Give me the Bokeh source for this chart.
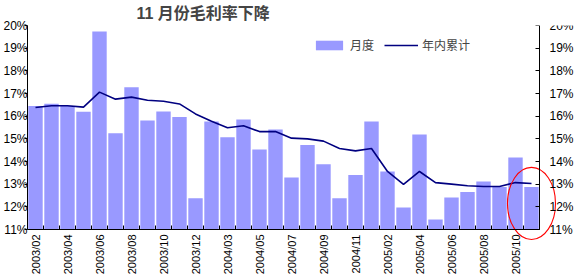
import numpy as np
from bokeh.plotting import figure
from bokeh.models import (Range1d, LinearAxis, FixedTicker, Legend, LegendItem,
                          PrintfTickFormatter, CustomJSTickFormatter, ColumnDataSource)
from bokeh.embed import file_html
from bokeh.resources import INLINE

months = ["2003/02", "2003/03", "2003/04", "2003/05", "2003/06", "2003/07", "2003/08",
          "2003/09", "2003/10", "2003/11", "2003/12",
          "2004/02", "2004/03", "2004/04", "2004/05", "2004/06", "2004/07", "2004/08",
          "2004/09", "2004/10", "2004/11", "2004/12",
          "2005/02", "2005/03", "2005/04", "2005/05", "2005/06", "2005/07", "2005/08",
          "2005/09", "2005/10", "2005/11"]

monthly = [16.45, 16.55, 16.45, 16.2, 19.74, 15.25, 17.28, 15.81, 16.21, 15.96, 12.38,
           15.76, 15.07, 15.85, 14.53, 15.41, 13.29, 14.73, 13.88, 12.38, 13.4, 15.76,
           13.56, 11.97, 15.19, 11.44, 12.41, 12.65, 13.12, 12.88, 14.18, 12.87]

cumulative = [16.38, 16.46, 16.46, 16.4, 17.06, 16.75, 16.84, 16.7, 16.66, 16.54, 16.1,
              15.78, 15.49, 15.58, 15.32, 15.32, 15.03, 15.0, 14.9, 14.57, 14.47, 14.57,
              13.56, 12.99, 13.56, 13.07, 13.0, 12.93, 12.9, 12.9, 13.07, 13.03]

y_ticks = [11, 12, 13, 14, 15, 16, 17, 18, 19, 20]

title_text = "11 月份毛利率下降"
legend_labels = ["月度", "年内累计"]

n = len(months)
xs = [i + 0.5 for i in range(n)]
src = ColumnDataSource(dict(x=xs, m=monthly, c=cumulative, label=months))

# The plotting frame is extended past the right and bottom axes (which are drawn at
# fixed data locations) so that the highlight ellipse is not clipped.
W, H = 574, 278
LEFT, TOP = 27, 25
PX_PER_CAT = 16.0
PX_PER_PCT = 204.0 / (y_ticks[-1] - y_ticks[0])
x_end = (W - LEFT) / PX_PER_CAT
y_start = y_ticks[0] - 49.0 / PX_PER_PCT

p = figure(width=W, height=H, output_backend="svg", toolbar_location=None,
           x_range=Range1d(0, x_end), y_range=Range1d(y_start, y_ticks[-1]),
           min_border_left=LEFT, min_border_right=0, min_border_top=TOP, min_border_bottom=0)
p.outline_line_color = None
p.background_fill_color = "white"
p.border_fill_color = "white"
p.xgrid.visible = False
p.ygrid.visible = False

bars = p.vbar(x="x", top="m", bottom=y_ticks[0], width=0.9, source=src,
              fill_color="#9999FF", line_color=None)
line = p.line(x="x", y="c", source=src, line_color="#000080", line_width=1.6)

# red ellipse highlighting the latest months
p.ellipse(x=xs[-1], y=12.15, width=3.0, height=3.18, fill_color=None,
          line_color="red", line_width=1.1)

# title
p.title.text = title_text
p.title.text_font = "Liberation Sans, Noto Sans CJK SC"
p.title.text_font_size = "16px"
p.title.text_font_style = "bold"
p.title.align = "left"
p.title.offset = 109
p.title.standoff = 4
p.title.vertical_align = "top"

# x axis (drawn at y = 11%)
xa = p.xaxis[0]
xa.fixed_location = y_ticks[0]
xa.bounds = (0, n)
xa.ticker = FixedTicker(ticks=[i + 0.5 for i in range(0, n, 2)],
                        minor_ticks=list(range(0, n + 1)))
xa.formatter = CustomJSTickFormatter(args=dict(labels=months),
                                     code="return labels[Math.floor(tick)] || '';")
xa.major_label_orientation = np.pi / 2
xa.major_tick_in = 0
xa.major_tick_out = 0
xa.minor_tick_in = 4
xa.minor_tick_out = 0
xa.minor_tick_line_color = "black"
xa.axis_line_color = "black"
xa.major_label_text_font = "Liberation Sans"
xa.major_label_text_font_size = "11px"
xa.major_label_text_color = "black"
xa.major_label_standoff = 5

# left y axis
ya = p.yaxis[0]
ya.bounds = (y_ticks[0], y_ticks[-1])
ya.ticker = FixedTicker(ticks=y_ticks, minor_ticks=[])
ya.formatter = PrintfTickFormatter(format="%d%%")
ya.major_tick_out = 3
ya.major_tick_in = 0
ya.major_label_standoff = -3
ya.major_label_text_font = "Liberation Sans"
ya.major_label_text_font_size = "12px"
ya.major_label_text_color = "black"
ya.axis_line_color = "black"

# right y axis (drawn at the last category boundary)
ra = LinearAxis(ticker=FixedTicker(ticks=y_ticks, minor_ticks=[]),
                formatter=PrintfTickFormatter(format="%d%%"))
ra.fixed_location = n
ra.bounds = (y_ticks[0], y_ticks[-1])
ra.major_tick_out = 0
ra.major_tick_in = 4
ra.major_label_standoff = 10
ra.major_label_text_font = "Liberation Sans"
ra.major_label_text_font_size = "12px"
ra.major_label_text_color = "black"
ra.axis_line_color = "black"
p.add_layout(ra, "right")

legend = Legend(items=[LegendItem(label=legend_labels[0], renderers=[bars]),
                       LegendItem(label=legend_labels[1], renderers=[line])],
                orientation="horizontal", location=(285, H - 41 - 12))
legend.background_fill_alpha = 0
legend.border_line_color = None
legend.padding = 0
legend.margin = 0
legend.label_text_font = "Noto Sans CJK SC"
legend.label_text_font_size = "12px"
legend.glyph_width = 34
legend.glyph_height = 12
legend.label_height = 12
legend.label_standoff = 4
legend.spacing = 10
p.add_layout(legend)

open("out.html", "w").write(file_html(p, INLINE))
